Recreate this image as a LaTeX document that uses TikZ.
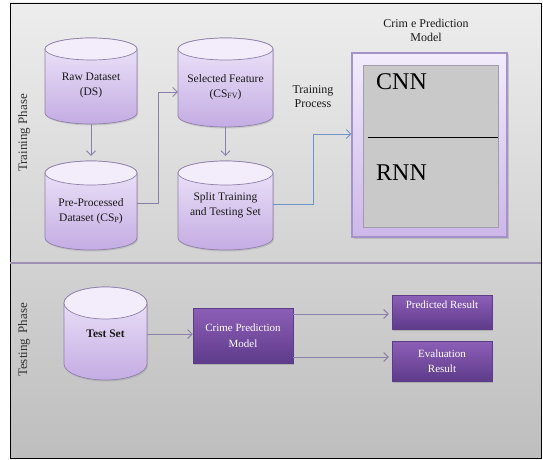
\documentclass[tikz,border=0pt]{standalone}
\usepackage{fontspec}
\setmainfont{Liberation Serif}
\usetikzlibrary{arrows.meta,shadows,calc}

\definecolor{bgtop}{HTML}{EDEDED}
\definecolor{bgbot}{HTML}{BEBEBE}
\definecolor{cyltop}{HTML}{EFE7FA}
\definecolor{cylbot}{HTML}{C4ACE3}
\definecolor{cylcapc}{HTML}{F3EDFB}
\definecolor{cylline}{HTML}{8E80AA}
\definecolor{arrowc}{HTML}{8A80A8}
\definecolor{arrowblue}{HTML}{7094C4}
\definecolor{outertop}{HTML}{F2ECFB}
\definecolor{outerbot}{HTML}{CDB7EA}
\definecolor{outerline}{HTML}{A393C8}
\definecolor{innerfill}{HTML}{C9C9C9}
\definecolor{innerline}{HTML}{A09CAA}
\definecolor{purptop}{HTML}{8D5FB7}
\definecolor{purpbot}{HTML}{5E3B8B}
\definecolor{purpline}{HTML}{5A3E85}
\definecolor{dividerc}{HTML}{9C90B4}

% small lowered capitals used in the dataset labels
\newcommand{\smallsub}[1]{\raisebox{-0.8pt}{\fontsize{8}{8}\selectfont #1}}

% database cylinder: name, centre x, top y, bottom y, half width, cap radius
\newcommand{\dbcylinder}[6]{%
  \path[cylbody] (#2-#5,#3+#6) -- (#2-#5,#4-#6)
    arc[start angle=180,end angle=360,x radius=#5pt,y radius=#6pt]
    -- (#2+#5,#3+#6)
    arc[start angle=0,end angle=180,x radius=#5pt,y radius=#6pt] -- cycle;
  \path[cylcap] (#2,#3+#6) ellipse[x radius=#5pt,y radius=#6pt];
  \node[cylbox,minimum width={2*#5pt},minimum height={(#4-#3)*1pt}] (#1) at (#2,{(#3+#4)/2}) {};
}

\begin{document}
\begin{tikzpicture}[x=1pt,y=-1pt,
  cylbody/.style={top color=cyltop,bottom color=cylbot,draw=cylline,line width=0.7pt,
    drop shadow={opacity=0.25,shadow xshift=1pt,shadow yshift=-1.5pt}},
  cylcap/.style={fill=cylcapc,draw=cylline,line width=0.7pt},
  cylbox/.style={draw=none,inner sep=0pt,rectangle},
  cyltxt/.style={font=\fontsize{11.5}{15}\selectfont,align=center,inner sep=0pt,text=black!90},
  arr/.style={draw=arrowc,line width=0.9pt,-{Straight Barb[length=4.5pt,width=9pt]}},
  arrblue/.style={draw=arrowblue,line width=0.9pt,-{Straight Barb[length=4.5pt,width=9pt]}},
  purplebox/.style={rectangle,top color=purptop,bottom color=purpbot,draw=purpline,line width=0.5pt,
    text=white,align=center,inner sep=0pt,font=\fontsize{11}{15.5}\selectfont,
    drop shadow={opacity=0.35,shadow xshift=1.2pt,shadow yshift=-1.5pt}},
  boxtxt/.style={text=white,align=center,inner sep=0pt,font=\fontsize{11}{15}\selectfont},
  modelouter/.style={rectangle,top color=outertop,bottom color=outerbot,draw=outerline,line width=1.2pt,
    drop shadow={opacity=0.3,shadow xshift=1.5pt,shadow yshift=-1.5pt}},
  modelinner/.style={rectangle,fill=innerfill,draw=innerline,line width=0.8pt},
  nnlabel/.style={font=\fontsize{24}{24}\selectfont,inner sep=0pt,anchor=west},
  plaintxt/.style={font=\fontsize{12}{14}\selectfont,align=center,inner sep=0pt,text=black!90},
  phase/.style={font=\fontsize{13}{13}\selectfont,rotate=90,inner sep=0pt,text=black!80}
]
\useasboundingbox (0,0) rectangle (543,460);

% background panel and frame
\path[top color=bgtop,bottom color=bgbot] (10,3) rectangle (541,458);
\draw[line width=0.9pt] (10,3) rectangle (541,458);
\draw[dividerc,line width=1.3pt] (10,263) -- (541,263);

% phase labels
\node[phase] (trainphase) at (24,133) {Training Phase};
\node[phase] (testphase) at (24,340) {Testing\hspace{2pt} Phase};

% training phase data stores
\dbcylinder{raw}{91}{38}{124}{46}{11}
\dbcylinder{sel}{225.5}{38}{127}{47.5}{11}
\dbcylinder{pre}{91}{161}{250}{46}{12}
\dbcylinder{split}{225.5}{161}{250}{47.5}{12}

\node[cyltxt] (rawtxt) at (91,85) {Raw Dataset\\(DS)};
\node[cyltxt] (seltxt) at (225.5,87) {Selected Feature\\(CS\smallsub{FV})};
\node[cyltxt] (pretxt) at (91,211) {Pre-Processed\\Dataset (CS\smallsub{P})};
\node[cyltxt] (splittxt) at (225.5,205) {Split Training\\and Testing Set};

% crime prediction model (training)
\node[plaintxt] (mtitle) at (426,30) {Crim e Prediction\\Model};
\node[modelouter,minimum width=155,minimum height=184] (model) at (429.5,145) {};
\node[modelinner,minimum width=135,minimum height=162] (inner) at (430.5,146) {};
\draw[line width=0.8pt] (368,137) -- (inner.east |- 0,137);
\node[nnlabel] (cnn) at (376,82) {CNN};
\node[nnlabel] (rnn) at (376,173) {RNN};

\node[plaintxt] (tproc) at (313,97) {Training\\Process};

% training connectors
\draw[arr,shorten >=5pt] (raw) -- (pre);
\draw[arr,shorten >=5pt] (sel) -- (split);
\draw[arr] (pre.east |- 0,203) -- (158,203) |- (sel.west |- 0,92);
\draw[arrblue] (split.east |- 0,204) -- (313,204) |- (model.west |- 0,134);

% testing phase
\dbcylinder{test}{105.5}{287}{380}{41.5}{16}
\node[cyltxt,font=\bfseries\fontsize{11.5}{15}\selectfont] (testtxt) at (105.5,334) {Test Set};

\node[purplebox,minimum width=100,minimum height=55] (crime) at (243,335.5) {Crime Prediction\\Model};
\node[purplebox,minimum width=100,minimum height=34] (pred) at (442,312) {};
\node[boxtxt] (predtxt) at (442,305) {Predicted Result};
\node[purplebox,minimum width=100,minimum height=40] (eval) at (442,361) {Evaluation\\Result};

\draw[arr] (test.east |- 0,334) -- (crime.west |- 0,334);
\draw[arr,shorten >=3pt] (crime.east |- 0,314) -- (pred.west |- 0,314);
\draw[arr,shorten >=3pt] (crime.east |- 0,357) -- (eval.west |- 0,357);
\end{tikzpicture}
\end{document}
